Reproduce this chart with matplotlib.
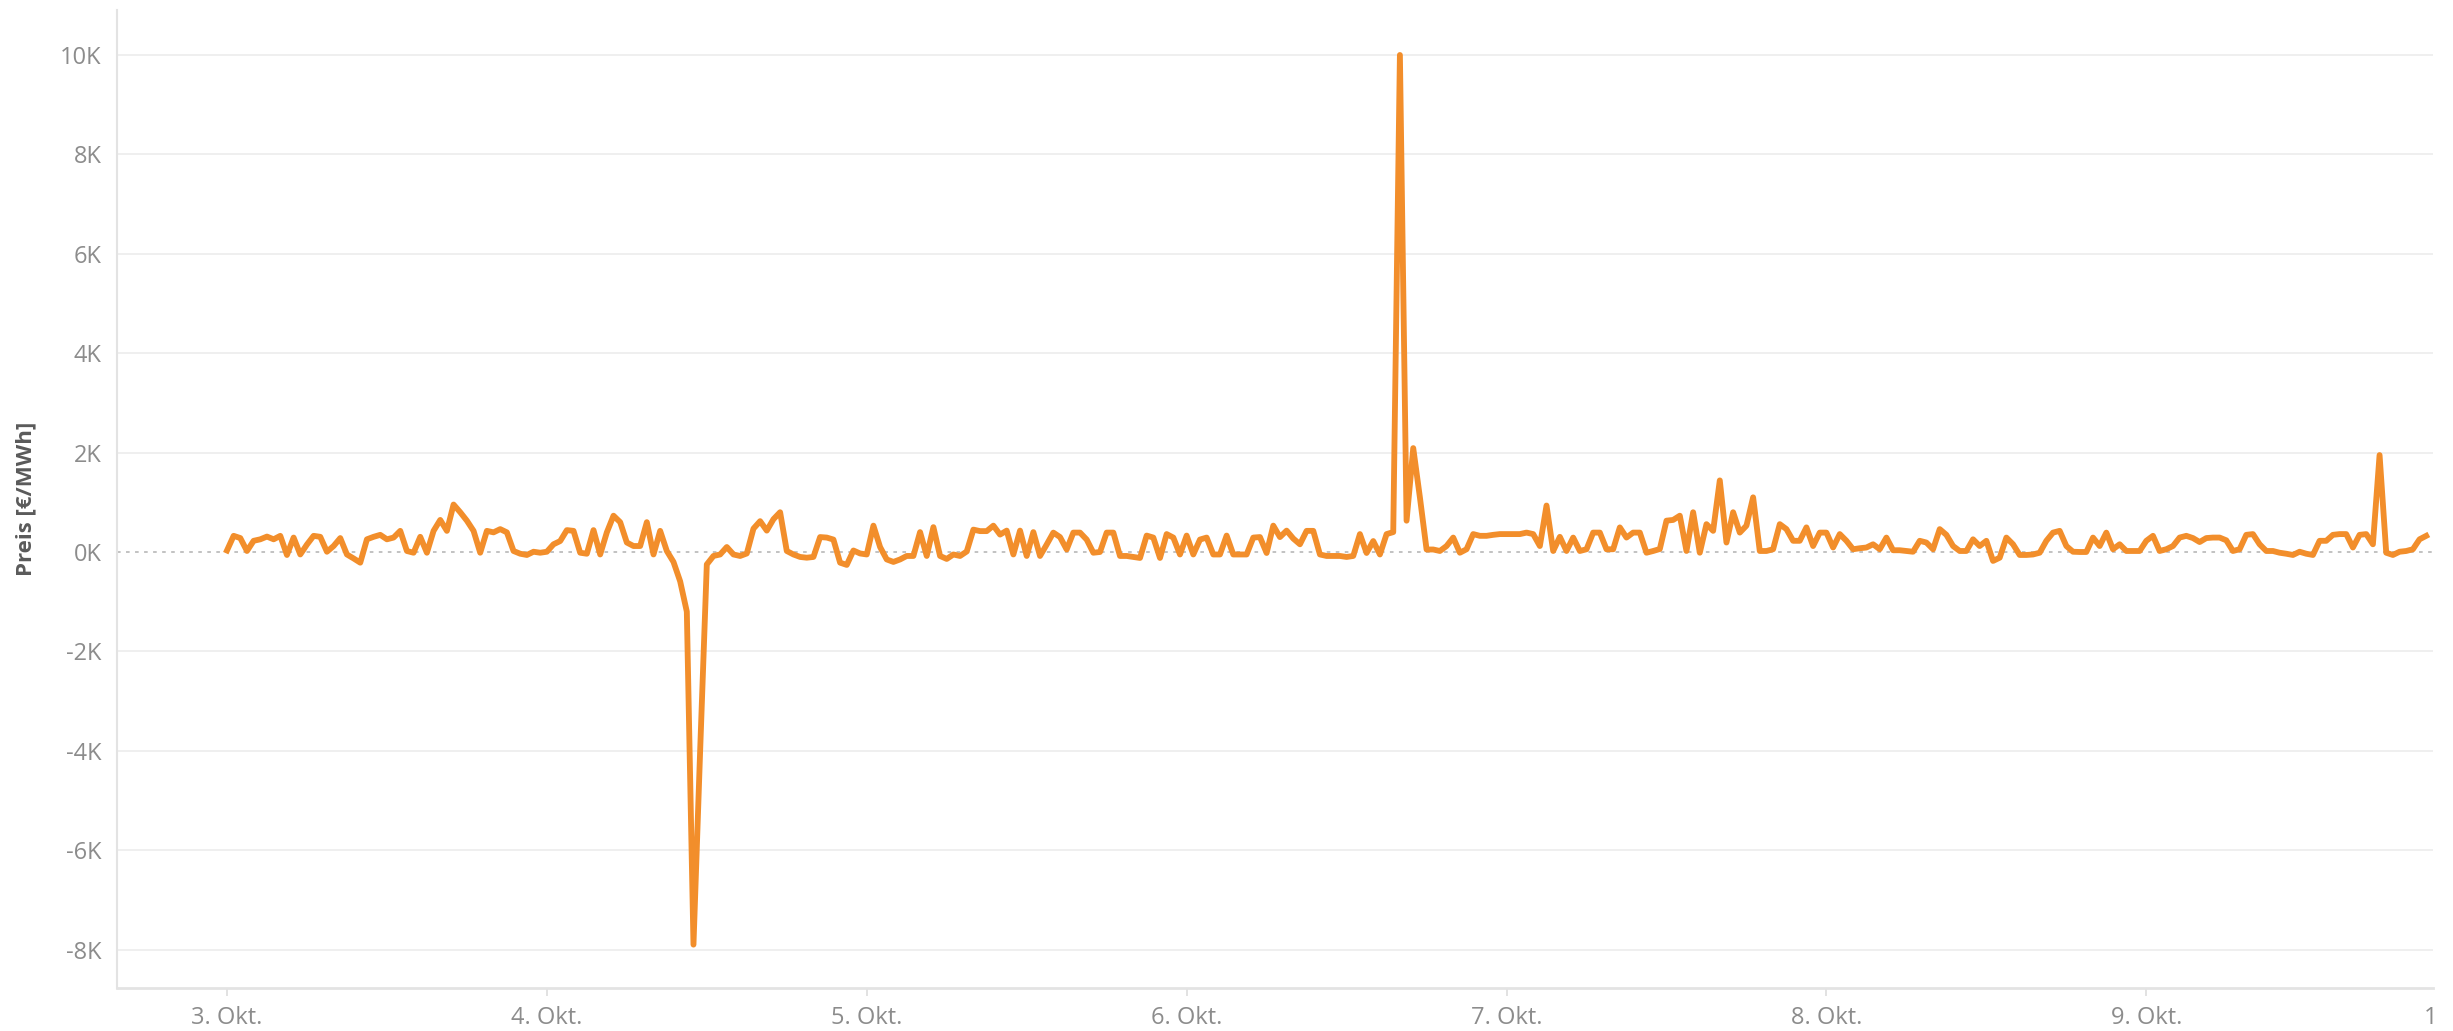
"""
Strompreis-Verlauf 3.-9. Okt. (Tableau-Stil) mit Matplotlib nachgebaut.
"""

import matplotlib
matplotlib.use('Agg')
import matplotlib.pyplot as plt
import matplotlib.dates as mdates
import matplotlib.ticker as mticker
import matplotlib.transforms as mtransforms
import pandas as pd

plt.rcParams['font.family'] = ['Open Sans', 'DejaVu Sans']

# Preise in EUR/MWh, halbstuendlich, je Tag ab 00:00
okt3 = [30, 325, 280, 20, 225, 255, 310, 255, 325, -60, 290, -50, 150, 325, 305, 5,
        120, 280, -50, -130, -215, 255, 305, 345, 255, 290, 425, 20, -15, 305, -15, 425,
        645, 425, 955, 800, 630, 425, -15, 425, 395, 460, 395, 20, -35, -60, 5, -15]
okt4 = [5, 155, 220, 440, 425, -15, -35, 440, -50, 395, 730, 600, 190, 120, 120, 600,
        -50, 425, 20, -200, -590, -1200, -7900, -4000, -250, -80, -50, 100, -50, -80, -30, 470,
        620, 430, 660, 800, 20, -50, -100, -115, -100, 300, 290, 250, -215, -260, 30, -30]
okt5 = [-50, 530, 100, -150, -200, -150, -80, -80, 400, -80, 500, -80, -140, -50, -80, 10,
        450, 420, 420, 530, 350, 430, -50, 430, -80, 400, -80, 150, 390, 300, 50, 390,
        390, 250, -15, 0, 390, 390, -80, -80, -100, -120, 330, 290, -120, 360, 290, -50]
okt6 = [330, -50, 250, 290, -50, -50, 330, -50, -50, -50, 290, 300, -20, 530, 300, 430,
        270, 155, 425, 425, -50, -80, -80, -80, -100, -80, 360, -20, 220, -50, 360, 400,
        10000, 630, 2090, 1100, 50, 50, 20, 120, 290, -15, 55, 360, 325, 325, 345, 360]
okt7 = [360, 360, 360, 390, 360, 120, 935, 20, 305, 20, 290, 20, 55, 390, 390, 55,
        55, 495, 290, 390, 390, -15, 20, 60, 630, 645, 730, 20, 800, -15, 560, 425,
        1440, 190, 800, 390, 530, 1100, 20, 20, 55, 560, 460, 225, 225, 495, 120, 390]
okt8 = [390, 90, 360, 225, 55, 75, 90, 155, 55, 290, 35, 35, 20, 5, 225, 190,
        55, 460, 345, 120, 20, 20, 255, 120, 225, -180, -115, 290, 155, -60, -60, -50,
        -15, 225, 390, 425, 120, 5, 0, 0, 290, 120, 390, 55, 155, 20, 20, 20]
okt9 = [225, 325, 20, 55, 120, 290, 325, 280, 200, 280, 290, 290, 235, 20, 55, 345,
        360, 155, 20, 20, -15, -35, -60, 5, -35, -60, 225, 225, 345, 360, 360, 90,
        345, 360, 155, 1950, -15, -60, 5, 20, 55, 255, 325]

preis = okt3 + okt4 + okt5 + okt6 + okt7 + okt8 + okt9
zeit = pd.date_range('2022-10-03 00:00', periods=len(preis), freq='30min')

y_ticks = [-8000, -6000, -4000, -2000, 0, 2000, 4000, 6000, 8000, 10000]

fig = plt.figure(figsize=(24.53, 10.31), dpi=100)
ax = fig.add_axes([0.0477, 0.0417, 0.9441, 0.9486])

# Gitter (ohne Nulllinie), Nulllinie gepunktet
for v in y_ticks:
    if v != 0:
        ax.axhline(v, color='#EEEEEE', linewidth=1.3, zorder=0)
ax.axhline(0, color='#BDBDBD', linewidth=1.3, linestyle=(0, (2, 3)), zorder=1)

ax.plot(zeit, preis, color='#F28E2B', linewidth=4.2, solid_joinstyle='round', zorder=3)

start = zeit[0]
ax.set_xlim(start - pd.Timedelta(hours=8.25), start + pd.Timedelta(hours=165.5))
ax.set_ylim(-8773, 10905)

ax.set_yticks(y_ticks)
ax.yaxis.set_major_formatter(mticker.FuncFormatter(lambda v, pos: f"{int(round(v / 1000))}K"))

ax.xaxis.set_major_locator(mdates.DayLocator())
ax.xaxis.set_major_formatter(
    mticker.FuncFormatter(lambda x, pos: f"{mdates.num2date(x).day}. Okt."))

ax.tick_params(axis='x', length=6, width=1.2, color='#DDDDDD', labelcolor='#8C8C8C',
               labelsize=17, pad=7)
ax.tick_params(axis='y', length=0, labelcolor='#8C8C8C', labelsize=17, pad=11)

# Beschriftung "10. Okt." wird wie im Original am Rand des Diagramms abgeschnitten
label_trans = mtransforms.offset_copy(ax.get_xaxis_transform(), fig=fig, y=-13, units='points')
last_label = ax.text(start + pd.Timedelta(days=7), 0, '10. Okt.', transform=label_trans,
                     ha='center', va='top', fontsize=17, color='#8C8C8C')
last_label.set_clip_box(mtransforms.TransformedBbox(
    mtransforms.Bbox([[0, -0.06], [1.002, 1]]), ax.transAxes))
last_label.set_clip_on(True)

for side in ['top', 'right']:
    ax.spines[side].set_visible(False)
ax.spines['left'].set_color('#E3E3E3')
ax.spines['left'].set_linewidth(1.5)
ax.spines['bottom'].set_color('#E3E3E3')
ax.spines['bottom'].set_linewidth(2)

ax.set_ylabel('Preis [€/MWh]', fontsize=16, fontweight='bold', color='#5A5A5A')
ax.yaxis.set_label_coords(-0.035, 0.5)

fig.savefig('out.png', dpi=100, facecolor='white')
